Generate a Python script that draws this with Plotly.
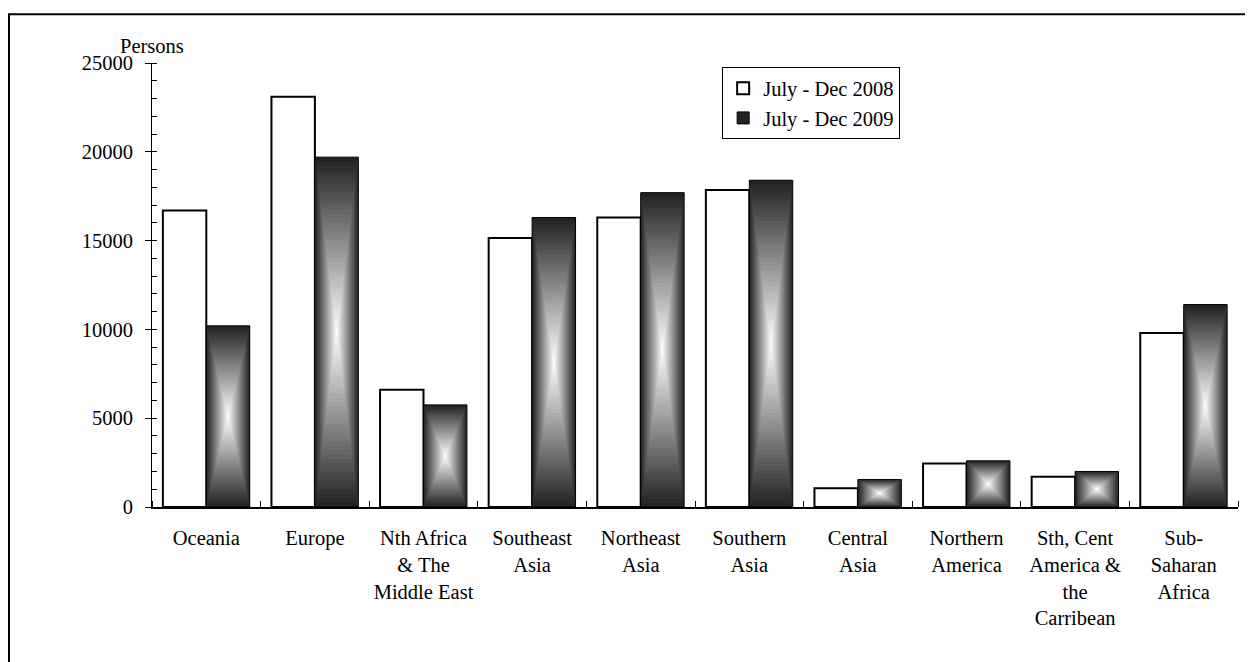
import plotly.graph_objects as go

categories = ["Oceania", "Europe", "Nth Africa<br>& The<br>Middle East", "Southeast<br>Asia",
              "Northeast<br>Asia", "Southern<br>Asia", "Central<br>Asia", "Northern<br>America",
              "Sth, Cent<br>America &<br>the<br>Carribean", "Sub-<br>Saharan<br>Africa"]
series_names = ["July - Dec 2008", "July - Dec 2009"]
values_2008 = [16700, 23100, 6600, 15150, 16300, 17850, 1050, 2450, 1700, 9800]
values_2009 = [10200, 19700, 5750, 16300, 17700, 18400, 1550, 2600, 2000, 11400]
y_ticks = [0, 5000, 10000, 15000, 20000, 25000]
y_tick_labels = [str(v) for v in y_ticks]

FONT = "Liberation Serif"
FS = 20.5
pos = list(range(len(categories)))
W = 0.4  # width of one bar (category width = 1, bargap 0.2)

fig = go.Figure()

# 2008: white bars with black outline
fig.add_trace(go.Bar(
    x=pos, y=values_2008, width=W, offset=-W, name=series_names[0],
    marker=dict(color="white", line=dict(color="black", width=2)),
    showlegend=True,
))

# 2009: "from centre" gradient built from nested bars scaled about each bar's centre
N = 40
for k in range(N):
    s = 1 - k / N  # scale factor (1 = full bar)
    g = int(round(35 + (255 - 35) * (1 - s)))
    col = f"rgb({g},{g},{g})"
    base = [v / 2 * (1 - s) for v in values_2009]
    length = [v * s for v in values_2009]
    first = (k == 0)
    fig.add_trace(go.Bar(
        x=pos, y=length, base=base, width=W * s, offset=W / 2 - W * s / 2,
        name=series_names[1],
        marker=dict(color=col, line=dict(color="black", width=1 if first else 0)),
        showlegend=first, hoverinfo=None if first else "skip",
    ))

fig.update_layout(
    width=1245, height=654,
    margin=dict(l=144, r=15, t=55, b=155),
    barmode="overlay",
    plot_bgcolor="white", paper_bgcolor="white",
    font=dict(family=FONT, size=FS, color="black"),
    showlegend=True,
    legend=dict(
        x=0.525, y=0.99, xanchor="left", yanchor="top",
        bordercolor="black", borderwidth=1, bgcolor="white",
        font=dict(family=FONT, size=FS, color="black"),
        itemwidth=30,
    ),
    xaxis=dict(
        range=[-0.5, len(categories) - 0.5],
        tickvals=pos, ticktext=categories, ticks="",
        showgrid=False, zeroline=False,
        showline=True, linecolor="black", linewidth=1.5,
        ticklabelstandoff=12,
        minor=dict(tick0=0.5, dtick=1, ticks="inside", ticklen=6, tickcolor="black", tickwidth=1),
        tickfont=dict(family=FONT, size=FS, color="black"),
    ),
    yaxis=dict(
        range=[0, 25000], tickvals=y_ticks, ticktext=y_tick_labels,
        ticks="outside", ticklen=6, tickcolor="black", tickwidth=1,
        showgrid=False, zeroline=False,
        showline=True, linecolor="black", linewidth=1,
        ticklabelstandoff=8,
        minor=dict(dtick=1000, ticks="inside", ticklen=5, tickcolor="black", tickwidth=1),
        tickfont=dict(family=FONT, size=FS, color="black"),
    ),
    annotations=[dict(
        text="Persons", xref="paper", yref="paper", x=0.0, y=1.0376,
        xanchor="center", yanchor="middle", showarrow=False,
        font=dict(family=FONT, size=FS, color="black"),
    )],
    shapes=[dict(
        type="rect", xref="paper", yref="paper",
        x0=-0.1317, x1=1.05, y0=-0.5, y1=1.1097,
        line=dict(color="black", width=2), fillcolor="rgba(0,0,0,0)", layer="below",
    )],
)

fig.write_html("out.html")
